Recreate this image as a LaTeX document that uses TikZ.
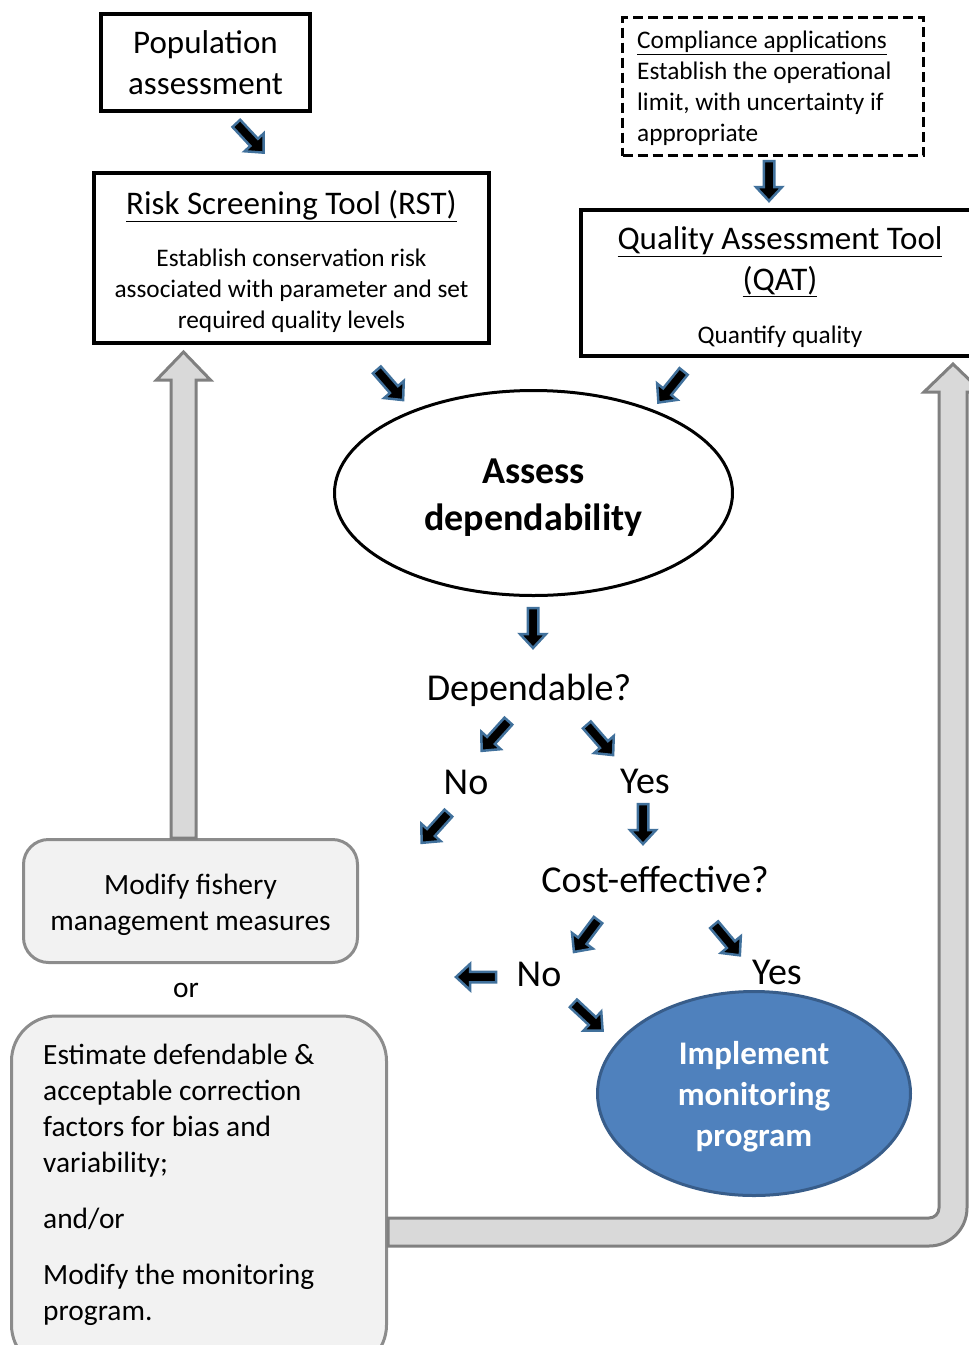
\documentclass[tikz,border=0pt]{standalone}
\usepackage{fontspec}
\setmainfont{Carlito}
\usepackage{xcolor}
\usetikzlibrary{shapes.geometric}
\usetikzlibrary{calc}

\definecolor{arrowblue}{HTML}{41719C}
\definecolor{implblue}{HTML}{4F81BD}
\definecolor{impledge}{HTML}{385D8A}
\definecolor{boxfill}{HTML}{F2F2F2}
\definecolor{boxline}{HTML}{8C8C8C}
\definecolor{arrowgrey}{HTML}{D9D9D9}
\definecolor{arrowedge}{HTML}{808080}

\tikzset{
    blackbox/.style={draw=black, line width=4pt, inner sep=0pt},
    dashbox/.style={draw=black, line width=3pt, dash pattern=on 10pt off 5pt},
    greybox/.style={draw=boxline, fill=boxfill, line width=3pt, rounded corners=25pt},
    hdtxt/.style={font=\fontsize{33}{41}\selectfont},
    smtxt/.style={font=\fontsize{25.3}{31}\selectfont},
    midtxt/.style={font=\fontsize{29.4}{36}\selectfont},
    bigtxt/.style={font=\fontsize{38}{47}\selectfont},
    smallarrow/.style={fill=black, draw=arrowblue, line width=2.5pt, line join=miter},
    greyarrow/.style={fill=arrowgrey, draw=arrowedge, line width=3pt, line join=miter},
}

\begin{document}
\begin{tikzpicture}[x=1pt,y=-1pt]
    \useasboundingbox (0,0) rectangle (969,1345);

    % Tools
    \node[blackbox, minimum width=209pt, minimum height=97pt, hdtxt, align=center] (pop) at (205.5,62.5) {Population\\assessment};

    \node[blackbox, minimum width=395pt, minimum height=170pt] (rst) at (291.5,258) {};
    \node[hdtxt] (rsttitle) at (291.5,206) {\underline{Risk Screening Tool\ (RST)}};
    \node[smtxt, align=center] (rstbody) at (291.5,291) {Establish conservation risk\\associated with parameter and set\\required quality levels};

    \node[dashbox, minimum width=301pt, minimum height=138pt] (comp) at (773,86.5) {};
    \node[smtxt, align=left, anchor=north west, inner sep=0pt] (comptext) at (637,31) {\underline{Compliance applications}\\Establish the operational\\limit, with uncertainty if\\appropriate};

    \node[blackbox, minimum width=398pt, minimum height=146pt] (qat) at (780,283) {};
    \node[hdtxt, align=center] (qattitle) at (780,261.5) {\underline{Quality Assessment Tool}\\\underline{(QAT)}};
    \node[smtxt] (qatbody) at (780,337) {Quantify quality};

    % Decisions
    \node[ellipse, draw=black, line width=3pt, minimum width=398pt, minimum height=205pt] (assess) at (533.5,493) {};
    \node[font=\fontsize{38}{47}\selectfont\bfseries, align=center] (assesstext) at (533.5,498) {Assess\\dependability};
    \node[bigtxt] (dep) at (529,690) {Dependable?};
    \node[bigtxt] (no1) at (466,782) {No};
    \node[bigtxt] (yes1) at (645,781) {Yes};
    \node[bigtxt] (cost) at (655,879) {Cost-effective?};
    \node[bigtxt] (no2) at (539,974) {No};
    \node[bigtxt] (yes2) at (777,972) {Yes};

    \node[ellipse, draw=impledge, fill=implblue, line width=3pt, minimum width=313pt, minimum height=204pt] (impl) at (754,1093.5) {};
    \node[text=white, font=\fontsize{33}{41}\selectfont\bfseries, align=center] (impltext) at (754,1097) {Implement\\monitoring\\program};

    % Remedies
    \node[greybox, minimum width=334pt, minimum height=123pt] (modfish) at (190.5,901) {};
    \node[midtxt, align=center] (modtext) at (190.5,905) {Modify fishery\\management measures};
    \node[midtxt] (orlbl) at (186,990) {or};
    \node[greybox, rounded corners=45pt, minimum width=375pt, minimum height=354pt] (estim) at (199,1193) {};
    \node[midtxt, align=left, anchor=north west, inner sep=0pt] (estimtext) at (43,1044) {Estimate defendable \&\\acceptable correction\\factors for bias and\\variability;\\[20pt]and/or\\[20pt]Modify the monitoring\\program.};

    % Feedback arrows
    \coordinate (ltip) at (183.5,352);
    \draw[greyarrow] (ltip) -- ++(27,28) -- ++(-14.5,0) -- ($(ltip |- modfish.north)+(12.5,0)$)
        -- ++(-25,0) -- ($(ltip)+(-12.5,28)$) -- ++(-14.5,0) -- cycle;

    \coordinate (rtip) at (953,364);
    \draw[greyarrow] ($(estim.east)+(0,25)$) -- (929,1218) arc[start angle=90, end angle=0, radius=10]
        -- (939,392) -- (924,392) -- (rtip) -- (982,392) -- (967,392) -- (967,1208)
        arc[start angle=0, end angle=90, radius=38] -- ($(estim.east)+(0,53)$) -- cycle;

    % Small block arrows
    \foreach \px/\py/\ang in {250/138/-47, 769/181/-90, 390/385/-49, 671/387/-129,
                              533/628/-90, 495/736/-132, 600/740/-49, 435/828/-132,
                              643/824/-90, 586/936/-127, 727/940/-50, 476/977/180, 588/1017/-43} {
        \filldraw[smallarrow, shift={(\px,\py)}, rotate=\ang]
            (-20,-5.25) -- (6,-5.25) -- (6,-13) -- (20,0) -- (6,13) -- (6,5.25) -- (-20,5.25) -- cycle;
    }
\end{tikzpicture}
\end{document}
